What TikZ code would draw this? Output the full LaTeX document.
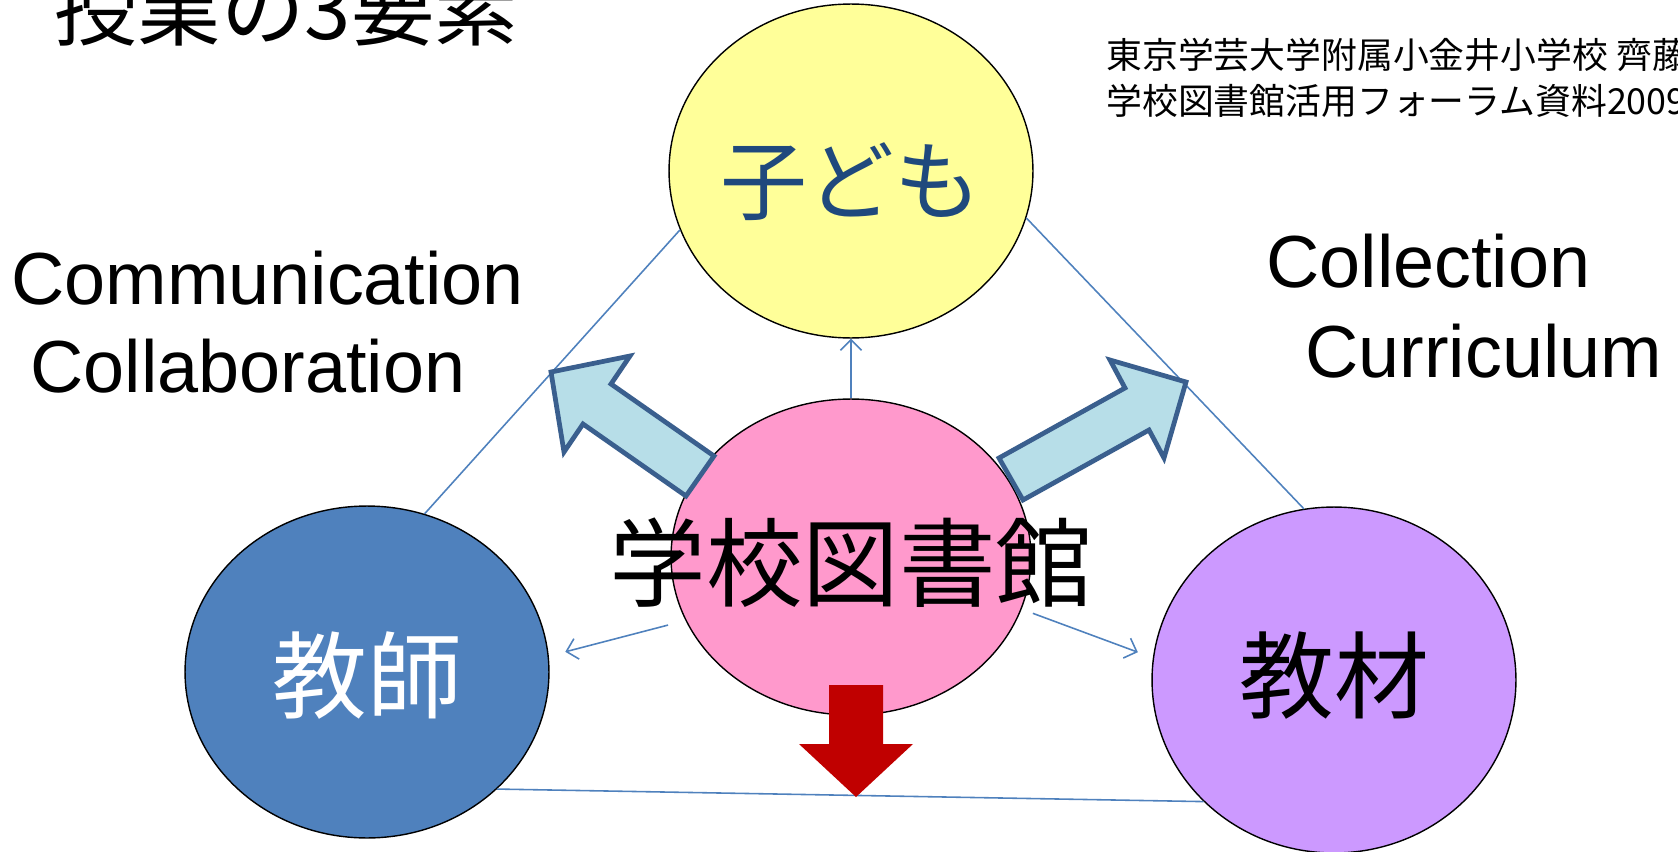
\documentclass[tikz,border=0pt]{standalone}
\usepackage{fontspec}
\setmainfont{Liberation Sans}
\newfontfamily\jp{Noto Sans CJK JP}
\usetikzlibrary{shapes.geometric,arrows.meta}
\definecolor{kodomo}{HTML}{FFFF99}
\definecolor{kodomotext}{HTML}{1F497D}
\definecolor{toshokan}{HTML}{FF99CC}
\definecolor{kyoshi}{HTML}{4F81BD}
\definecolor{kyozai}{HTML}{CC99FF}
\definecolor{lineblue}{HTML}{4F81BD}
\definecolor{fatfill}{HTML}{B7DEE8}
\definecolor{fatline}{HTML}{3A5F8E}
\definecolor{downred}{HTML}{C00000}
\begin{document}
\begin{tikzpicture}[x=0.02cm,y=-0.02cm,
  elp/.style={ellipse,draw=black,line width=0.8pt,inner sep=0pt},
  big/.style={inner sep=0pt,font=\jp\fontsize{54}{60}\selectfont},
  eng/.style={anchor=base west,inner sep=0pt,font=\fontsize{42}{50}\selectfont},
  edge/.style={draw=lineblue,line width=0.9pt},
  link/.style={edge,-{Straight Barb[length=6pt,width=12pt]}},
  fat/.style={fill=fatfill,draw=fatline,line width=2.7pt,line join=miter}]
\useasboundingbox (0,0) rectangle (1678,852);

% the four circles
\node[elp,fill=kodomo,minimum width=7.28cm,minimum height=6.68cm] (child) at (851,171) {};
\node[elp,fill=kyoshi,minimum width=7.28cm,minimum height=6.64cm] (teacher) at (367,672) {};
\node[elp,fill=kyozai,minimum width=7.28cm,minimum height=6.92cm] (material) at (1334,680) {};
\node[elp,fill=toshokan,minimum width=7.2cm,minimum height=6.32cm] (library) at (851,557) {};

% triangle
\draw[edge] (teacher.70) -- (child.199);
\draw[edge] (child.-15) -- (material.100);
\draw[edge] (teacher.-42) -- (material.-137);

% thin arrows out of the library
\draw[link] (library.north) -- (child.south);
\draw[link,shorten <=0.36cm,shorten >=0.34cm] (library.201) -- (teacher.5);
\draw[link,shorten <=0.24cm,shorten >=0.32cm] (library.-17) -- (material.173);

% fat arrows
\draw[fat] (714,456) -- (611,384) -- (630,356) -- (551,372) -- (564,452) -- (583,424) -- (686,496) -- cycle;
\draw[fat] (999,458) -- (1125,388) -- (1110,360) -- (1186,382) -- (1164,458) -- (1149,430) -- (1023,500) -- cycle;
\fill[downred] (829,685) -- (883,685) -- (883,744) -- (913,744) -- (856,797) -- (799,744) -- (829,744) -- cycle;

% texts
\node[big,text=kodomotext,font=\jp\fontsize{49.5}{55}\selectfont] (childtext) at (851,182) {子ども};
\node[big,text=white] (teachertext) at (367,676) {教師};
\node[big] (materialtext) at (1334,676) {教材};
\node[big,font=\jp\fontsize{55}{60}\selectfont] (librarytext) at (851,563) {学校図書館};
\node[anchor=base west,inner sep=0pt,font=\jp\fontsize{47.5}{50}\selectfont] (title) at (54,39) {授業の3要素};
\node[anchor=base west,inner sep=0pt,font=\jp\fontsize{20.4}{24}\selectfont] (source1) at (1106,68) {東京学芸大学附属小金井小学校 齊藤};
\node[anchor=base west,inner sep=0pt,font=\jp\fontsize{20.4}{24}\selectfont] (source2) at (1106,114) {学校図書館活用フォーラム資料2009};
\node[eng] (comm) at (11,304) {Communication};
\node[eng] (collab) at (30,392) {Collaboration};
\node[eng] (coll) at (1266,287) {Collection};
\node[eng] (curr) at (1305,377) {Curriculum};
\end{tikzpicture}
\end{document}
